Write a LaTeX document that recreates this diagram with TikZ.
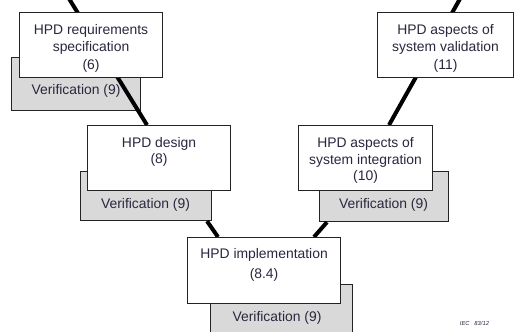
\documentclass[tikz,border=0pt]{standalone}
\usepackage{fontspec}
\setmainfont{Liberation Sans}
\usetikzlibrary{calc}
\pgfdeclarelayer{back}
\pgfsetlayers{back,main}
\definecolor{txtc}{RGB}{40,40,62}
\definecolor{grayfill}{RGB}{217,217,217}
\definecolor{edgec}{RGB}{35,35,35}
\tikzset{
  wbox/.style={draw=edgec, line width=1.1pt, fill=white, rectangle, inner sep=0pt, anchor=north west},
  gbox/.style={draw=edgec, line width=1.1pt, fill=grayfill, rectangle, inner sep=0pt, anchor=north west},
  txt/.style={font=\fontsize{13.9}{17.5}\selectfont, text=txtc, align=center, inner sep=0pt},
  conn/.style={line width=4pt, black},
}
\begin{document}
\begin{tikzpicture}[x=1pt,y=-1pt]
\useasboundingbox (0,0) rectangle (515,332);
\clip (0,0) rectangle (515,332);
\begin{pgfonlayer}{back}
\fill[white] (0,0) rectangle (515,332);
% gray verification boxes
\node[gbox, minimum width=129pt, minimum height=53pt] (g1) at (11,57) {};
\node[gbox, minimum width=131pt, minimum height=49pt] (g3) at (80,171) {};
\node[gbox, minimum width=129pt, minimum height=50pt] (g4) at (319,171) {};
\node[gbox, minimum width=142pt, minimum height=60pt] (g5) at (210,284) {};
\end{pgfonlayer}
\coordinate (t1) at (68,-3);
\coordinate (t2) at (461,-3);
% white boxes
\node[wbox, minimum width=143pt, minimum height=65pt] (b1) at (19,12) {};
\node[wbox, minimum width=136pt, minimum height=65pt] (b2) at (377,12) {};
\node[wbox, minimum width=143pt, minimum height=65pt] (b3) at (87,125) {};
\node[wbox, minimum width=134pt, minimum height=65pt] (b4) at (298,125) {};
\node[wbox, minimum width=153pt, minimum height=66pt] (b5) at (187,237) {};
% connectors (behind white boxes, above gray boxes)
\begin{pgfonlayer}{back}
\draw[conn] (t1) -- ($(b3.north west)+(60,0)$);
\draw[conn] (t2) -- ($(b4.north west)+(91,0)$);
\draw[conn] ($(g3.south west)+(127,0)$) -- ($(b5.north west)+(31,0)$);
\draw[conn] ($(g4.south west)+(8,0)$) -- ($(b5.north west)+(127,0)$);
\end{pgfonlayer}
% texts
\node[txt, anchor=north] (x1) at ($(b1.north)+(0,12)$) {HPD requirements\\specification\\(6)};
\node[txt, anchor=north] (x2) at ($(b2.north)+(0,12)$) {HPD aspects of\\system validation\\(11)};
\node[txt, anchor=north, font=\fontsize{13.9}{16}\selectfont] (x3) at ($(b3.north)+(0,12)$) {HPD design\\(8)};
\node[txt, anchor=north, font=\fontsize{13.9}{16.8}\selectfont] (x4) at ($(b4.north)+(0,12)$) {HPD aspects of\\system integration\\(10)};
\node[txt, anchor=north, font=\fontsize{13.9}{19.5}\selectfont] (x5) at ($(b5.north)+(0,11.5)$) {HPD implementation\\(8.4)};
\node[txt] (v1) at (76,91) {Verification (9)};
\node[txt] (v3) at (145.5,205) {Verification (9)};
\node[txt] (v4) at (383.5,205) {Verification (9)};
\node[txt] (v5) at (277,318) {Verification (9)};
\node[font=\fontsize{5.8}{6}\selectfont\itshape, text=txtc, inner sep=0pt] (iec) at (474.5,323) {IEC\ \ \ 83/12};
\end{tikzpicture}
\end{document}
